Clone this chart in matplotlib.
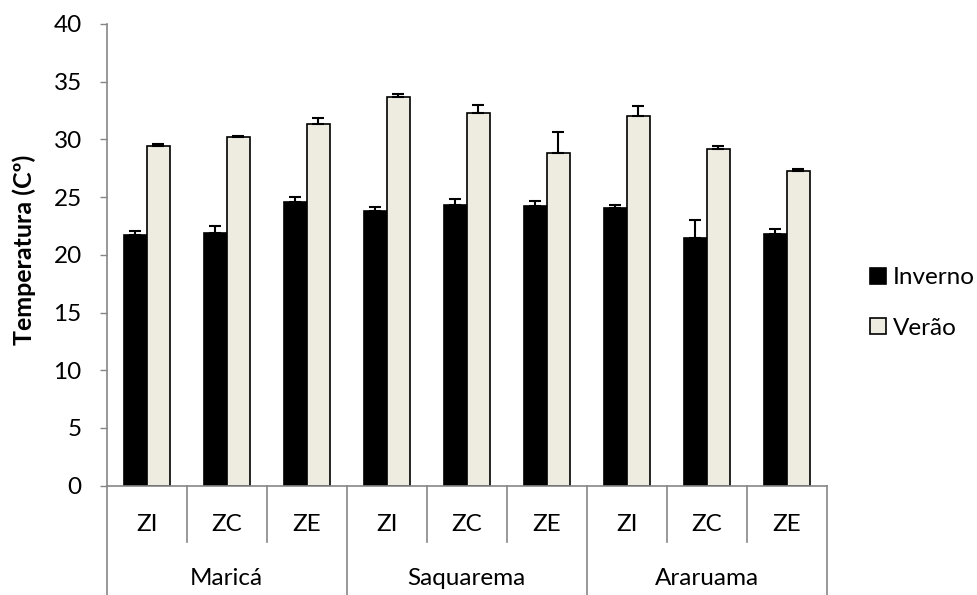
import numpy as np
import matplotlib.pyplot as plt
from matplotlib import transforms

plt.rcParams['font.family'] = ['Lato', 'DejaVu Sans']

# Data
zones = ['ZI', 'ZC', 'ZE'] * 3
sites = ['Maricá', 'Saquarema', 'Araruama']
inverno = [21.7, 21.9, 24.6, 23.8, 24.3, 24.2, 24.1, 21.5, 21.8]
inverno_err = [0.34, 0.61, 0.44, 0.38, 0.52, 0.43, 0.23, 1.48, 0.43]
verao = [29.4, 30.2, 31.3, 33.7, 32.3, 28.8, 32.0, 29.2, 27.3]
verao_err = [0.17, 0.12, 0.58, 0.23, 0.70, 1.88, 0.86, 0.23, 0.11]

axis_gray = '#868686'
fs = 17.5

fig = plt.figure(figsize=(9.77, 5.95), dpi=100)
ax = fig.add_axes([0.1092, 0.1837, 0.8463 - 0.1092, 0.9597 - 0.1837])

x = np.arange(len(zones))
w = 0.286
zeros = np.zeros(len(x))
ax.bar(x - w / 2, inverno, w, color='black', edgecolor='black', linewidth=1.2,
       label='Inverno', yerr=[zeros, inverno_err],
       error_kw=dict(ecolor='black', elinewidth=1.5, capsize=4, capthick=1.5))
ax.bar(x + w / 2, verao, w, color='#EEECE1', edgecolor='black', linewidth=1.2,
       label='Verão', yerr=[zeros, verao_err],
       error_kw=dict(ecolor='black', elinewidth=1.5, capsize=4, capthick=1.5))

ax.set_xlim(-0.5, len(zones) - 0.5)
ax.set_ylim(0, 40)
ax.set_yticks(np.arange(0, 41, 5))
ax.tick_params(axis='y', direction='out', length=5, width=1, color=axis_gray,
               labelsize=fs, pad=13)
ax.set_xticks([])
for s in ['top', 'right']:
    ax.spines[s].set_visible(False)
for s in ['left', 'bottom']:
    ax.spines[s].set_color(axis_gray)
    ax.spines[s].set_linewidth(1.2)

# two-level category axis
trans = transforms.blended_transform_factory(ax.transData, ax.transAxes)
for k in range(len(zones) + 1):
    bottom = -0.237 if k % 3 == 0 else -0.121
    ax.plot([k - 0.5, k - 0.5], [0, bottom], color=axis_gray, lw=1.2,
            transform=trans, clip_on=False)
for k, z in enumerate(zones):
    ax.text(k, -0.083, z, transform=trans, ha='center', va='center', fontsize=fs)
for g, name in enumerate(sites):
    ax.text(3 * g + 1, -0.202, name, transform=trans, ha='center', va='center',
            fontsize=fs)

fig.text(0.025, 0.58, 'Temperatura (Cº)', rotation=90, ha='center', va='center',
         fontsize=18, fontweight='bold')

ax.legend(loc='center left', bbox_to_anchor=(0.8905, 0.4908),
          bbox_transform=fig.transFigure, frameon=False, fontsize=fs,
          handlelength=0.65, handleheight=0.65, handletextpad=0.3,
          labelspacing=1.2, borderpad=0, borderaxespad=0)

fig.savefig('out.png', dpi=100)
